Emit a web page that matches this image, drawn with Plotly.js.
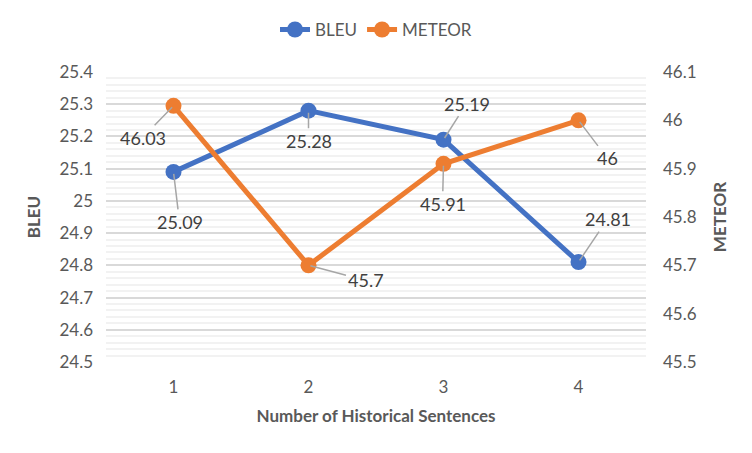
<!DOCTYPE html>
<html>
<head>
<meta charset="utf-8">
<script src="https://cdn.plot.ly/plotly-3.0.1.min.js"></script>
<style>
  html, body { margin: 0; padding: 0; background: #fff; }
  #chart { width: 752px; height: 453px; }
</style>
</head>
<body>
<div id="chart"></div>
<script>
// data
let sentences = [1, 2, 3, 4];
let bleu = [25.09, 25.28, 25.19, 24.81];
let meteor = [46.03, 45.7, 45.91, 46];

// label offsets (pixels) for the leader-line data labels
let bleuOffsets = [[6, 50], [0, 30], [23, -36], [29, -43]];
let meteorOffsets = [[-31, 32], [57, 15], [-1, 40], [29, 38]];

let blue = "#4472C4";
let orange = "#ED7D31";
let font = "Lato, 'Noto Sans', sans-serif";

let traceBleu = {
    x: sentences,
    y: bleu,
    name: "BLEU",
    type: "scatter",
    mode: "lines+markers",
    line: {color: blue, width: 5},
    marker: {color: blue, size: 16},
    yaxis: "y"
};
let traceMeteor = {
    x: sentences,
    y: meteor,
    name: "METEOR",
    type: "scatter",
    mode: "lines+markers",
    line: {color: orange, width: 5},
    marker: {color: orange, size: 16},
    yaxis: "y2"
};

let annotations = [];
bleu.forEach((v, i) => {
    annotations.push({
        x: sentences[i], y: v, yref: "y", xref: "x",
        text: String(v), showarrow: true, arrowhead: 0, arrowwidth: 1.5,
        arrowcolor: "#A6A6A6", ax: bleuOffsets[i][0], ay: bleuOffsets[i][1],
        font: {family: font, size: 18, color: "#404040"}, standoff: 2
    });
});
meteor.forEach((v, i) => {
    annotations.push({
        x: sentences[i], y: v, yref: "y2", xref: "x",
        text: String(v), showarrow: true, arrowhead: 0, arrowwidth: 1.5,
        arrowcolor: "#A6A6A6", ax: meteorOffsets[i][0], ay: meteorOffsets[i][1],
        font: {family: font, size: 18, color: "#404040"}, standoff: 2
    });
});

let layout = {
    width: 752,
    height: 453,
    margin: {l: 106, r: 106, t: 72, b: 91},
    paper_bgcolor: "#fff",
    plot_bgcolor: "#fff",
    font: {family: font, color: "#595959"},
    showlegend: true,
    legend: {
        orientation: "h", x: 0.5, xanchor: "center", y: 1.145, yanchor: "middle",
        font: {size: 17, color: "#595959"}
    },
    xaxis: {
        range: [0.5, 4.5],
        tickvals: sentences,
        showgrid: false,
        zeroline: false,
        showline: false,
        ticklabelstandoff: 13,
        tickfont: {size: 17, color: "#595959"},
        title: {text: "Number of Historical Sentences", standoff: 14,
                font: {size: 17, color: "#595959", family: font, weight: "bold"}}
    },
    yaxis: {
        range: [24.5, 25.4],
        dtick: 0.1,
        tickformat: "~g",
        showgrid: true,
        gridcolor: "#D9D9D9",
        gridwidth: 2,
        minor: {dtick: 0.02, showgrid: true, gridcolor: "#F2F2F2", gridwidth: 2},
        zeroline: false,
        showline: false,
        ticklabelstandoff: 12,
        tickfont: {size: 17, color: "#595959"},
        title: {text: "BLEU", standoff: 14,
                font: {size: 17, color: "#595959", family: font, weight: "bold"}}
    },
    yaxis2: {
        range: [45.5, 46.1],
        dtick: 0.1,
        tickformat: "~g",
        overlaying: "y",
        side: "right",
        showgrid: false,
        zeroline: false,
        showline: false,
        ticklabelstandoff: 16,
        tickfont: {size: 17, color: "#595959"},
        title: {text: "METEOR", standoff: 18,
                font: {size: 17, color: "#595959", family: font, weight: "bold"}}
    },
    annotations: annotations
};

Plotly.newPlot("chart", [traceBleu, traceMeteor], layout, {displayModeBar: false, staticPlot: true});
</script>
</body>
</html>
